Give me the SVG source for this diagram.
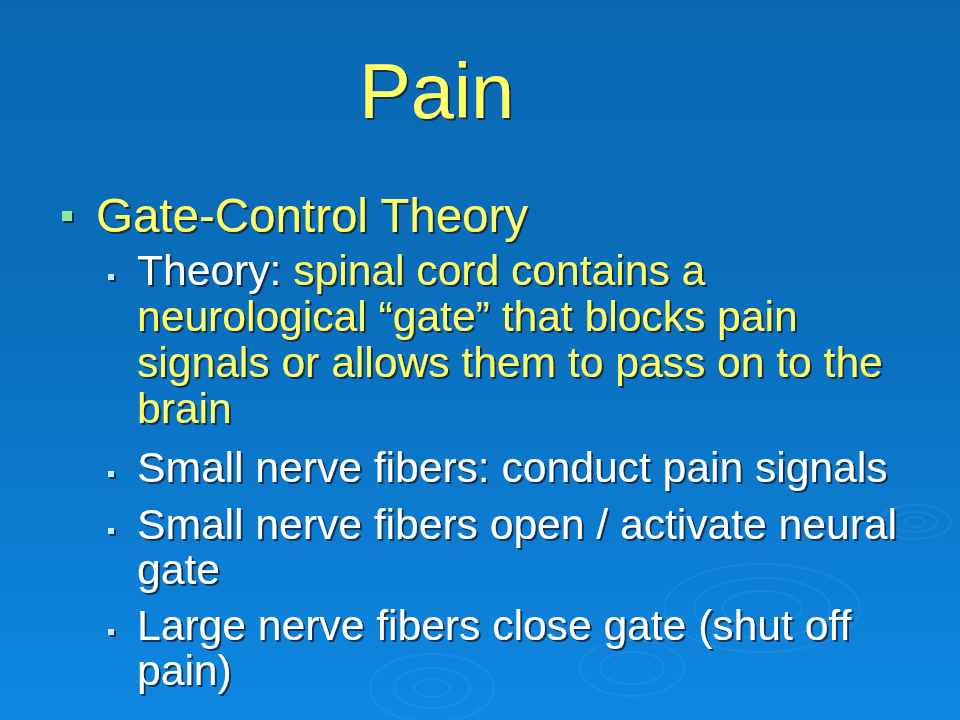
<svg xmlns="http://www.w3.org/2000/svg" width="960" height="720" viewBox="0 0 960 720">
<defs>
<linearGradient id="bg" x1="0" y1="0" x2="0" y2="1">
<stop offset="0" stop-color="#0a68b2"/>
<stop offset="0.45" stop-color="#0a6fbd"/>
<stop offset="1" stop-color="#0e88e2"/>
</linearGradient>
<filter id="sh" x="-5%" y="-20%" width="110%" height="140%">
<feDropShadow dx="2" dy="2" stdDeviation="0.7" flood-color="#0a1a30" flood-opacity="0.75"/>
</filter>
<style>
text{font-family:"Liberation Sans",Arial,sans-serif;}
.y{fill:#ffff66;}
.w{fill:#ffffff;}
.l1{font-size:47.5px;}
.l2{font-size:42.6px;}
.rip{fill:none;stroke:#5ab4f5;stroke-opacity:0.16;stroke-width:2;}
</style>
</defs>
<rect width="960" height="720" fill="url(#bg)"/>
<g id="ripples">
<ellipse class="rip" cx="762" cy="608" rx="98" ry="44"/>
<ellipse class="rip" cx="762" cy="608" rx="68" ry="30"/>
<ellipse class="rip" cx="762" cy="608" rx="40" ry="17"/>
<ellipse class="rip" cx="632" cy="668" rx="52" ry="28"/>
<ellipse class="rip" cx="632" cy="668" rx="32" ry="16"/>
<ellipse class="rip" cx="432" cy="688" rx="62" ry="34"/>
<ellipse class="rip" cx="432" cy="688" rx="38" ry="20"/>
<ellipse class="rip" cx="432" cy="688" rx="18" ry="9"/>
<ellipse class="rip" cx="915" cy="522" rx="36" ry="17"/>
<ellipse class="rip" cx="915" cy="522" rx="22" ry="10"/>
<ellipse class="rip" cx="915" cy="522" rx="10" ry="5"/>
</g>
<g id="title" filter="url(#sh)">
<text x="359" y="118" class="y" font-size="77.5">Pain</text>
</g>
<g id="bullet-gate" filter="url(#sh)">
<rect x="62" y="211" width="10" height="10" fill="#8fe89a"/>
<text x="96" y="232" class="y l1">Gate-Control Theory</text>
</g>
<g id="bullet-theory" filter="url(#sh)">
<rect x="108" y="274" width="6" height="6" fill="#cfe8ff"/>
<text x="137" y="285" class="l2"><tspan class="w">Theory: </tspan><tspan class="y">spinal cord contains a</tspan></text>
<text x="137" y="331" class="y l2">neurological “gate” that blocks pain</text>
<text x="137" y="377" class="y l2">signals or allows them to pass on to the</text>
<text x="137" y="423" class="y l2">brain</text>
</g>
<g id="bullet-small1" filter="url(#sh)">
<rect x="108" y="471" width="6" height="6" fill="#cfe8ff"/>
<text x="137" y="482" class="w l2">Small nerve fibers: conduct pain signals</text>
</g>
<g id="bullet-small2" filter="url(#sh)">
<rect x="108" y="528" width="6" height="6" fill="#cfe8ff"/>
<text x="137" y="539" class="w l2">Small nerve fibers open / activate neural</text>
<text x="137" y="584" class="w l2">gate</text>
</g>
<g id="bullet-large" filter="url(#sh)">
<rect x="108" y="629" width="6" height="6" fill="#cfe8ff"/>
<text x="137" y="640" class="w l2">Large nerve fibers close gate (shut off</text>
<text x="137" y="685" class="w l2">pain)</text>
</g>
<g id="connectors"/>
</svg>
